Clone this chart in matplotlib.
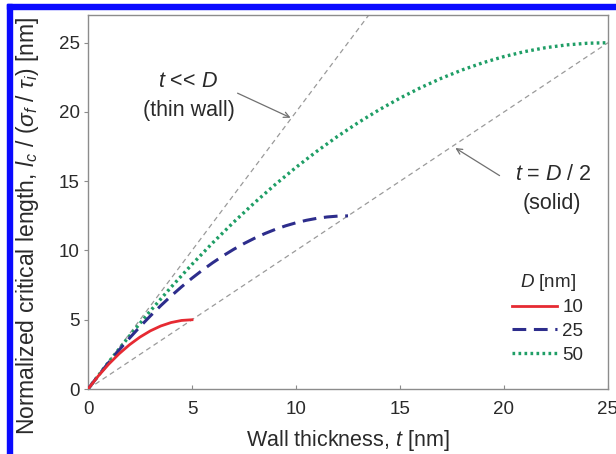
#!/usr/bin/env python

"""
Normalized critical length of hollow fibres vs wall thickness.
"""

import matplotlib
matplotlib.use('Agg')
import matplotlib.pyplot as plt
from matplotlib.patches import Rectangle

plt.rcParams['font.family'] = ['Liberation Sans', 'DejaVu Sans']
plt.rcParams['mathtext.fontset'] = 'custom'
plt.rcParams['mathtext.it'] = 'Liberation Sans:italic'
plt.rcParams['mathtext.rm'] = 'Liberation Sans'

TXT = '#2a2a2a'
GRID = '#8c8c8c'
FS_TICK = 13.5
FS_LABEL = 15.5

# wall thickness t [nm] and normalized length for each tube diameter D
t_d10 = [0, 0.5, 1.0, 1.5, 2.0, 2.5, 3.0, 3.5, 4.0, 4.5, 5.0]
y_d10 = [0, 0.95, 1.80, 2.55, 3.20, 3.75, 4.20, 4.55, 4.80, 4.95, 5.00]

t_d25 = [0, 0.5, 1.0, 1.5, 2.0, 2.5, 3.0, 3.5, 4.0, 4.5, 5.0, 5.5, 6.0, 6.5,
         7.0, 7.5, 8.0, 8.5, 9.0, 9.5, 10.0, 10.5, 11.0, 11.5, 12.0, 12.5]
y_d25 = [0, 0.98, 1.92, 2.82, 3.68, 4.50, 5.28, 6.02, 6.72, 7.38, 8.00, 8.58,
         9.12, 9.62, 10.08, 10.50, 10.88, 11.22, 11.52, 11.78, 12.00, 12.18,
         12.32, 12.42, 12.48, 12.50]

t_d50 = [0, 1, 2, 3, 4, 5, 6, 7, 8, 9, 10, 11, 12, 13, 14, 15, 16, 17, 18,
         19, 20, 21, 22, 23, 24, 25]
y_d50 = [0, 1.96, 3.84, 5.64, 7.36, 9.00, 10.56, 12.04, 13.44, 14.76, 16.00,
         17.16, 18.24, 19.24, 20.16, 21.00, 21.76, 22.44, 23.04, 23.56, 24.00,
         24.36, 24.64, 24.84, 24.96, 25.00]

# limiting cases: thin wall (slope 2) and solid rod (slope 1)
t_thin = [0, 13.5]
y_thin = [0, 27.0]
t_solid = [0, 25]
y_solid = [0, 25]

fig = plt.figure(figsize=(6.16, 4.54), dpi=100)
W, H = 616.0, 454.0
# blue frame around the figure
fig.patches.append(Rectangle((7 / W, 0), 5 / W, 1 - 4 / H, transform=fig.transFigure,
                             color='#0a0aff', zorder=0))
fig.patches.append(Rectangle((7 / W, 1 - 9 / H), 1 - 7 / W, 5 / H, transform=fig.transFigure,
                             color='#0a0aff', zorder=0))

ax = fig.add_axes([88 / W, 1 - 389 / H, 520 / W, 374 / H])

ax.plot(t_thin, y_thin, color='#9a9a9a', lw=0.9, ls=(0, (4, 3)))
ax.plot(t_solid, y_solid, color='#9a9a9a', lw=0.9, ls=(0, (4, 3)))

ax.plot(t_d50, y_d50, color='#1f9e66', lw=2.4, ls=(0, (0.8, 1.0)), label='50', zorder=3)
ax.plot(t_d25, y_d25, color='#2d2d8c', lw=2.2, ls=(0, (4.5, 2.5)), label='25', zorder=4)
ax.plot(t_d10, y_d10, color='#e62a32', lw=2.0, label='10', zorder=5)

ax.set_xlim(0, 25)
ax.set_ylim(0, 27)
ax.set_xticks([0, 5, 10, 15, 20, 25])
ax.set_yticks([0, 5, 10, 15, 20, 25])
for s in ax.spines.values():
    s.set_color(GRID)
    s.set_linewidth(1.0)
ax.tick_params(axis='x', direction='in', length=3, color=GRID, labelsize=FS_TICK,
               labelcolor=TXT, pad=9)
ax.tick_params(axis='y', direction='out', length=3, color=GRID, labelsize=FS_TICK,
               labelcolor=TXT, pad=3)

ax.set_xlabel('Wall thickness, $t$ [nm]', fontsize=FS_LABEL, color=TXT, labelpad=7)
ax.set_ylabel(r'Normalized critical length, $l_c$ / ($\sigma_f$ / $\tau_i$) [nm]',
              fontsize=16.5, color=TXT)
ax.yaxis.set_label_coords(-0.091, 0.436)

ax.annotate('', xy=(9.86, 19.5), xytext=(7.07, 21.44),
            arrowprops=dict(arrowstyle='->', color='#707070', lw=0.9))
ax.text(4.81, 22.2, '$t$ << $D$', fontsize=FS_LABEL, color=TXT, ha='center', va='center')
ax.text(4.86, 20.1, '(thin wall)', fontsize=FS_LABEL, color=TXT, ha='center', va='center')

ax.annotate('', xy=(17.55, 17.5), xytext=(19.9, 15.3),
            arrowprops=dict(arrowstyle='->', color='#707070', lw=0.9))
ax.text(22.36, 15.45, '$t$ = $D$ / 2', fontsize=FS_LABEL, color=TXT, ha='center', va='center')
ax.text(22.31, 13.4, '(solid)', fontsize=FS_LABEL, color=TXT, ha='center', va='center')

handles, labels = ax.get_legend_handles_labels()
order = [2, 1, 0]
leg = ax.legend([handles[i] for i in order], [labels[i] for i in order],
                title='$D$ [nm]', loc='upper left', bbox_to_anchor=(0.815, 0.314),
                frameon=False, fontsize=FS_TICK, title_fontsize=FS_TICK,
                handlelength=2.4, handletextpad=0.3, labelspacing=0.35,
                borderpad=0, borderaxespad=0)
for txt in leg.get_texts():
    txt.set_color(TXT)
leg.get_title().set_color(TXT)

fig.savefig('out.png', dpi=100)
